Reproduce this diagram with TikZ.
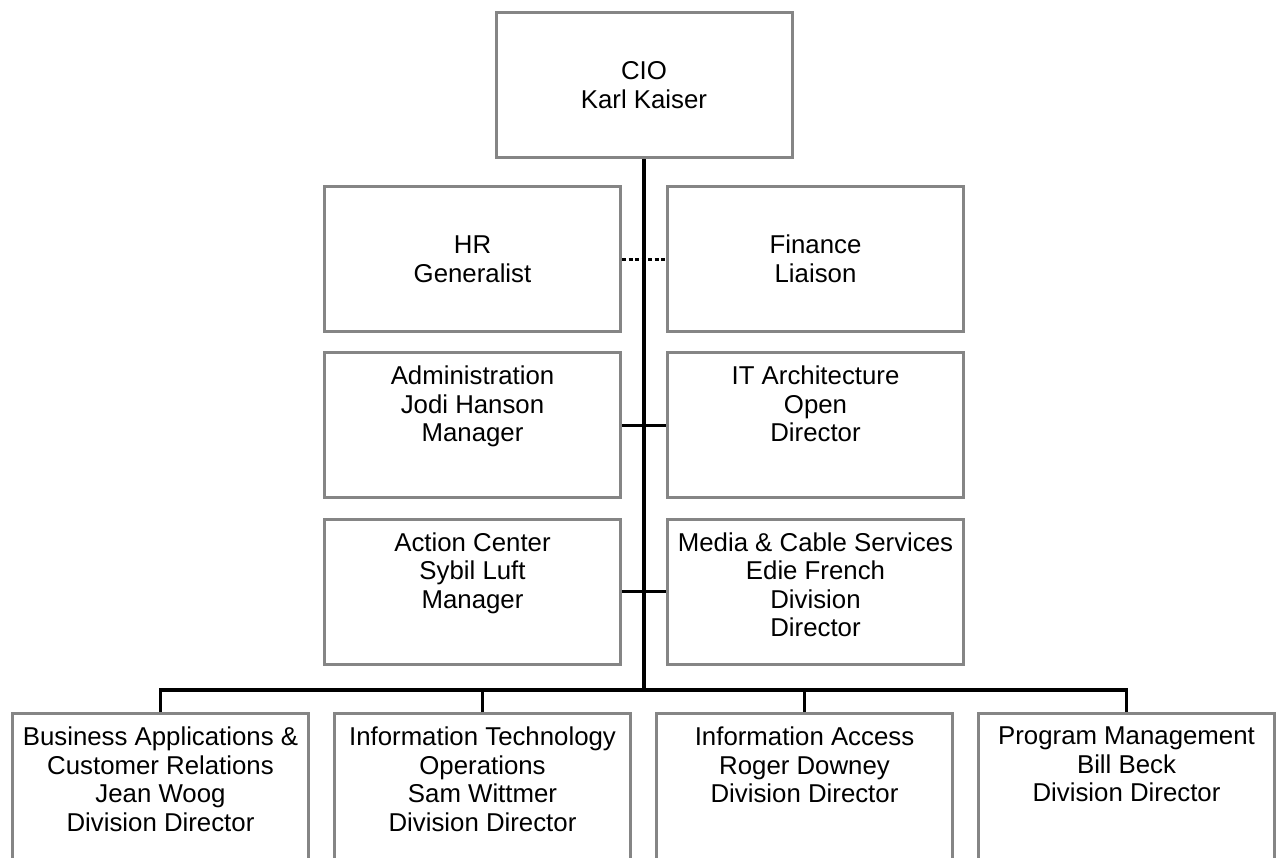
\documentclass[tikz,border=0pt]{standalone}
\usepackage{fontspec}
\setmainfont{Liberation Sans}
\usepackage{xcolor}
\usetikzlibrary{positioning}
\definecolor{boxgray}{RGB}{133,133,133}

\begin{document}
\begin{tikzpicture}[x=1pt, y=-1pt,
    unit/.style={draw=boxgray, line width=3pt, minimum width=296pt, minimum height=145pt,
      inner sep=0pt, align=center, font=\fontsize{25.8}{28.5}\selectfont},
    unittext/.style={inner sep=0pt, align=center, font=\fontsize{25.8}{28.5}\selectfont},
    link/.style={line width=3.5pt},
    sidelink/.style={line width=3pt},
    dotlink/.style={line width=3pt, dash pattern=on 4pt off 2.5pt}]
		\useasboundingbox (0,0) rectangle (1276,857);
		\clip (0,0) rectangle (1276,857);

		% CIO on top
		\node (cio) at (644,85) [unit] {CIO\\Karl Kaiser};
		\coordinate (hub) at (644,690);

		% Staff units beside the main line
		\node (hr) at (472.5,259) [unit] {HR\\Generalist};
		\node (fin) at (815.5,259) [unit] {Finance\\Liaison};
		\node (adm) at (472.5,425) [unit] {};
		\node (arch) at (815.5,425) [unit] {};
		\node (act) at (472.5,591.5) [unit] {};
		\node (media) at (815.5,591.5) [unit] {};

		\node (adm-t) [unittext, below=15pt of adm.north] {Administration\\Jodi Hanson\\Manager};
		\node (arch-t) [unittext, below=15pt of arch.north] {IT Architecture\\Open\\Director};
		\node (act-t) [unittext, below=15pt of act.north] {Action Center\\Sybil Luft\\Manager};
		\node (media-t) [unittext, below=15pt of media.north] {Media \& Cable Services\\Edie French\\Division\\Director};

		% Divisions (run past the lower edge)
		\node (bapps) at (160.5,793.5) [unit, minimum height=160pt] {};
		\node (itops) at (482.5,793.5) [unit, minimum height=160pt] {};
		\node (access) at (804.5,793.5) [unit, minimum height=160pt] {};
		\node (pgm) at (1126.5,793.5) [unit, minimum height=160pt] {};

		\node (bapps-t) [unittext, below=15pt of bapps.north] {Business Applications \&\\Customer Relations\\Jean Woog\\Division Director};
		\node (itops-t) [unittext, below=15pt of itops.north] {Information Technology\\Operations\\Sam Wittmer\\Division Director};
		\node (access-t) [unittext, below=15pt of access.north] {Information Access\\Roger Downey\\Division Director};
		\node (pgm-t) [unittext, below=15pt of pgm.north] {Program Management\\Bill Beck\\Division Director};

		% Connectors
		\draw[link] (cio.south) -- (hub);
		\draw[dotlink] (hr) -- (fin);
		\draw[sidelink] (adm) -- (arch);
		\draw[sidelink] (act) -- (media);
		\draw[link] (bapps.north) |- (hub) -| (pgm.north);
		\draw[link] (itops.north) -- (itops.north |- hub);
		\draw[link] (access.north) -- (access.north |- hub);
	\end{tikzpicture}
\end{document}
